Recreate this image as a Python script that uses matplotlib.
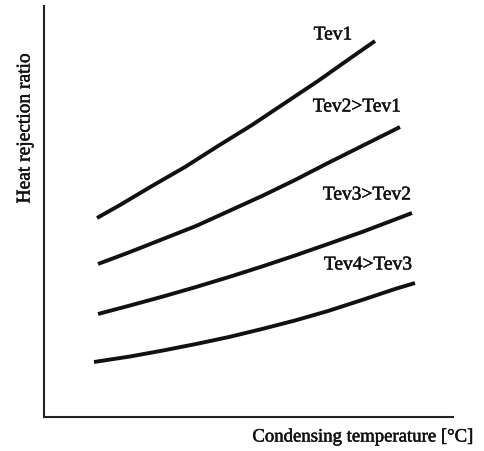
import matplotlib
matplotlib.use("Agg")
import matplotlib.pyplot as plt
import matplotlib.patheffects as pe

# Data (arbitrary units)
x1 = [53, 76, 108, 141, 174, 208, 241, 274, 308, 331]
y1 = [199, 212, 231, 250, 271, 292, 314, 336, 360, 376]
x2 = [54, 86, 119, 152, 185, 218, 251, 284, 318, 356]
y2 = [153, 165, 178, 191, 206, 221, 237, 254, 271, 290]
x3 = [54, 86, 119, 152, 185, 218, 251, 284, 318, 351, 368]
y3 = [103, 111.5, 120.5, 130, 140, 150.5, 161.5, 173, 185, 197.5, 204]
x4 = [50, 86, 119, 152, 185, 218, 251, 284, 318, 351, 371]
y4 = [55, 60.5, 66.5, 73, 80, 88, 96.5, 106, 117, 128, 134]

labels = ["Tev1", "Tev2>Tev1", "Tev3>Tev2", "Tev4>Tev3"]
label_pos = [(289, 382), (313, 310), (323, 222), (324, 152)]

plt.rcParams['font.family'] = ['Liberation Serif', 'DejaVu Serif']

fig = plt.figure(figsize=(4.85, 4.51), dpi=100)
ax = fig.add_axes([44/485, (451-417)/451, (453-44)/485, (417-6)/451])
ax.set_xlim(0, 409)
ax.set_ylim(0, 411)

for xs, ys in [(x1, y1), (x2, y2), (x3, y3), (x4, y4)]:
    ax.plot(xs, ys, color='#111111', lw=2.8, solid_capstyle='butt',
            solid_joinstyle='round')

thick = [pe.withStroke(linewidth=0.35, foreground='#111111')]
for lab, (lx, ly) in zip(labels, label_pos):
    ax.text(lx, ly, lab, ha='center', va='center', fontsize=14,
            color='#111111', path_effects=thick)

for s in ['top', 'right']:
    ax.spines[s].set_visible(False)
for s in ['left', 'bottom']:
    ax.spines[s].set_linewidth(1.5)
    ax.spines[s].set_color('#222222')
ax.set_xticks([])
ax.set_yticks([])

fig.text(363/485, 1 - 437/451, "Condensing temperature [°C]", ha='center',
         va='center', fontsize=13.5, color='#111111', path_effects=thick)
fig.text(25/485, 1 - 128/451, "Heat rejection ratio", ha='center',
         va='center', rotation=90, fontsize=14, color='#111111',
         path_effects=thick)

fig.savefig("out.png", dpi=100)
